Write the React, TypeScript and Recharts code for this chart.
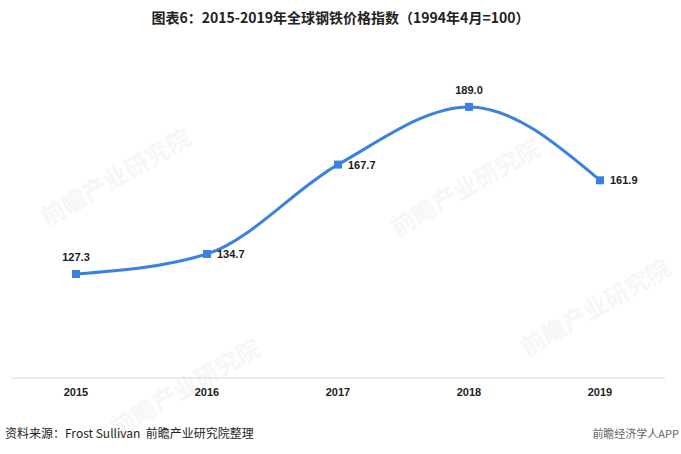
import React from "react";
import { LineChart, Line, XAxis, YAxis, LabelList } from "recharts";

const years = ["2015", "2016", "2017", "2018", "2019"];
const values = [127.3, 134.7, 167.7, 189.0, 161.9];
const labelAbove = [true, false, false, true, false];

const data = years.map((y, i) => ({ year: y, value: values[i] }));

const renderLabel = (props: any) => {
  const { x, y, index, value } = props;
  const above = labelAbove[index];
  return (
    <text
      x={above ? x : x + 10}
      y={above ? y - 13 : y}
      dy={above ? 0 : 4}
      textAnchor={above ? "middle" : "start"}
      fontSize={11}
      fontWeight="bold"
      fill="#1a1a1a"
      fontFamily="Liberation Sans, Arial, sans-serif"
    >
      {Number(value).toFixed(1)}
    </text>
  );
};

const Square = (props: any) => {
  const { cx, cy } = props;
  return <rect x={cx - 4} y={cy - 4} width={8} height={8} fill="#3b82e0" />;
};

const watermarks = [
  { x: 120, y: 185 },
  { x: 470, y: 195 },
  { x: 600, y: 315 },
  { x: 190, y: 395 },
];

export default function App() {
  return (
    <div style={{ position: "absolute", left: 0, top: 0, width: 681, height: 454, background: "#fff" }}>
      <svg width={681} height={454} style={{ position: "absolute", left: 0, top: 0 }}>
        {watermarks.map((w, i) => (
          <text
            key={i}
            x={w.x}
            y={w.y}
            transform={`rotate(-30 ${w.x} ${w.y})`}
            textAnchor="middle"
            fontSize={24}
            fontWeight="bold"
            fill="#f6f6f6"
            fontFamily="Noto Sans CJK SC, sans-serif"
          >
            前瞻产业研究院
          </text>
        ))}
      </svg>
      <div
        style={{
          position: "absolute",
          left: 0,
          top: 7,
          width: 681,
          textAlign: "center",
          fontSize: 14,
          fontWeight: "bold",
          color: "#222",
          fontFamily: "Noto Sans CJK SC, sans-serif",
        }}
      >
        图表6：2015-2019年全球钢铁价格指数（1994年4月=100）
      </div>
      <div style={{ position: "absolute", left: 0, top: 0 }}>
        <LineChart width={681} height={454} data={data} margin={{ top: 40, right: 16, left: 11, bottom: 46 }}>
          <XAxis
            dataKey="year"
            height={30}
            padding={{ left: 65, right: 65 }}
            axisLine={{ stroke: "#d9d9d9", strokeWidth: 1 }}
            tickLine={false}
            tickSize={0}
            tickMargin={10}
            tick={{ fontSize: 11, fontWeight: "bold", fill: "#222", fontFamily: "Liberation Sans, Arial, sans-serif" }}
          />
          <YAxis hide domain={[88.9, 213.7]} />
          <Line
            type="monotone"
            dataKey="value"
            stroke="#3b82e0"
            strokeWidth={3}
            dot={<Square />}
            activeDot={false}
            isAnimationActive={false}
          >
            <LabelList dataKey="value" content={renderLabel} />
          </Line>
        </LineChart>
      </div>
      <div
        style={{
          position: "absolute",
          left: 5,
          top: 424,
          fontSize: 12,
          color: "#222",
          fontFamily: "Noto Sans CJK SC, sans-serif",
        }}
      >
        资料来源：Frost Sullivan&nbsp; 前瞻产业研究院整理
      </div>
      <div
        style={{
          position: "absolute",
          right: 2,
          top: 425,
          fontSize: 11,
          color: "#666",
          fontFamily: "Noto Sans CJK SC, sans-serif",
        }}
      >
        前瞻经济学人APP
      </div>
    </div>
  );
}
